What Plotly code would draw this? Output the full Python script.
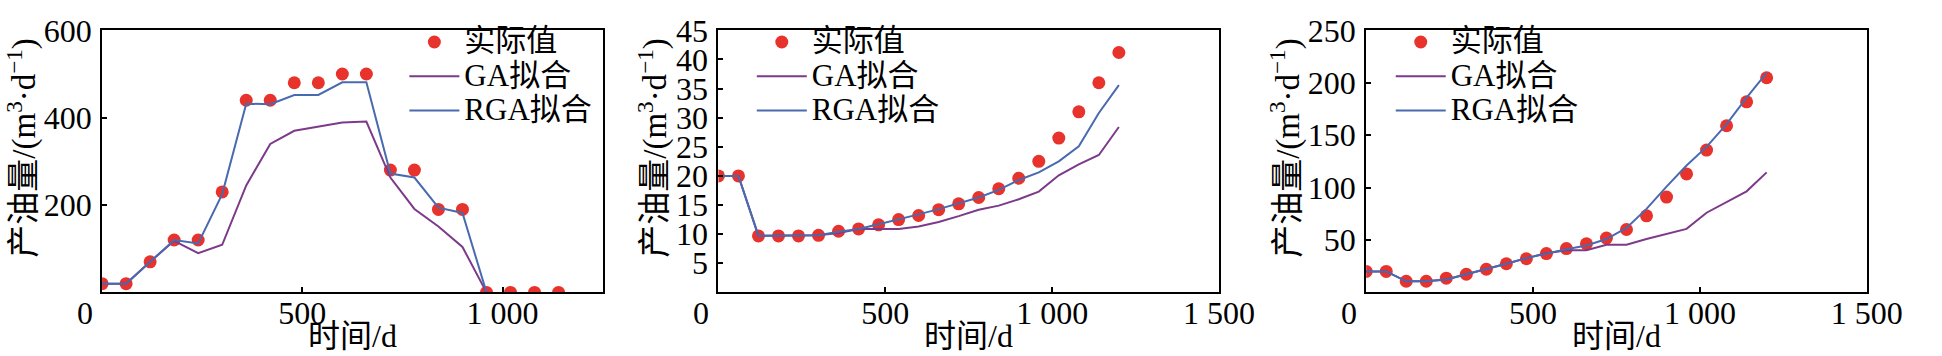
import plotly.graph_objects as go

# ---------------- data ----------------
t_actual = [0, 60, 120, 180, 240, 300, 360, 420, 480, 540, 600, 660, 720, 780, 840, 900, 960, 1020, 1080, 1140, 1200]

# panel 1
p1_t_actual = t_actual[:20]
p1_actual = [20, 20, 70, 120, 120, 230, 440, 440, 480, 480, 500, 500, 280, 280, 190, 190, 0, 0, 0, 0]
p1_t_fit = t_actual[:17]
p1_ga = [20, 20, 70, 118, 90, 109, 245, 340, 370, 380, 389, 391, 263, 191, 151, 104, 0]
p1_rga = [20, 20, 70, 120, 112, 225, 432, 431, 452, 452, 481, 481, 272, 263, 194, 182, 0]

# panel 2
p2_actual = [20, 20, 9.7, 9.7, 9.7, 9.8, 10.5, 10.9, 11.6, 12.5, 13.2, 14.2, 15.2, 16.3, 17.8, 19.6, 22.5, 26.5, 31.0, 36.0, 41.2]
p2_ga = [20, 20, 9.7, 9.7, 9.7, 9.8, 10.2, 10.9, 10.9, 10.9, 11.3, 12.1, 13.1, 14.2, 14.9, 16.0, 17.3, 20.1, 22.0, 23.6, 28.4]
p2_rga = [20, 20, 9.7, 9.7, 9.7, 9.8, 10.4, 10.9, 11.7, 12.5, 13.4, 14.3, 15.3, 16.3, 17.6, 19.3, 20.6, 22.5, 25.1, 30.8, 35.6]

# panel 3
p3_actual = [20, 20, 10.6, 10.6, 13.6, 17.3, 22.1, 27.3, 32.1, 37.0, 41.8, 46.4, 51.8, 60.0, 73.0, 90.9, 113, 135.8, 159, 181.8, 204.8]
p3_ga = [20, 20, 10.6, 10.6, 12.4, 17.3, 22, 27.3, 32.7, 37.3, 40.3, 40.3, 45.5, 45.5, 51, 55.5, 60.6, 76, 85.8, 96.4, 114.5]
p3_rga = [20, 20, 10.6, 10.6, 12.4, 17.3, 22, 27.3, 32.7, 37.3, 41.2, 44.8, 50.9, 61.5, 79.7, 100.9, 121, 138.8, 160.6, 185.8, 209.4]

names = ["实际值", "GA拟合", "RGA拟合"]
x_title = "时间/d"
y_title = "产油量/(m<sup>3</sup>·d<sup>−1</sup>)"

p1_xticks = [500, 1000]
p1_xtext = ["500", "1 000"]
p23_xticks = [500, 1000, 1500]
p23_xtext = ["500", "1 000", "1 500"]
p1_yticks = [200, 400, 600]
p2_yticks = [5, 10, 15, 20, 25, 30, 35, 40, 45]
p3_yticks = [50, 100, 150, 200, 250]

# ---------------- style ----------------
W, H = 1942, 356
FONT = "Liberation Serif, Noto Sans CJK SC, serif"
TICK_SIZE = 32
TITLE_SIZE = 33
XTITLE_SIZE = 32
LEG_TEXT = 31
RED = "#e8322c"
PURPLE = "#7d3a8a"
BLUE = "#4a6ab0"

panels = [
    dict(tx=p1_t_actual, ya=p1_actual, tf=p1_t_fit, ga=p1_ga, rga=p1_rga,
         xr=[0, 1250], yr=[0, 600], xt=p1_xticks, xtt=p1_xtext, yt=p1_yticks,
         px=(104, 614), leg_x=412, ytx=22),
    dict(tx=t_actual, ya=p2_actual, tf=t_actual, ga=p2_ga, rga=p2_rga,
         xr=[0, 1500], yr=[0, 45], xt=p23_xticks, xtt=p23_xtext, yt=p2_yticks,
         px=(732, 1242), leg_x=766, ytx=665),
    dict(tx=t_actual, ya=p3_actual, tf=t_actual, ga=p3_ga, rga=p3_rga,
         xr=[0, 1500], yr=[0, 250], xt=p23_xticks, xtt=p23_xtext, yt=p3_yticks,
         px=(1392, 1902), leg_x=1417, ytx=1309),
]

top_px, bot_px = 13, 289
ydom = [1 - bot_px / H, 1 - top_px / H]


def leg_name(s):
    return "<span style='font-size:%dpx'>%s</span>" % (LEG_TEXT, s)


fig = go.Figure()
layout = dict(
    width=W, height=H,
    margin=dict(l=0, r=0, t=0, b=0),
    paper_bgcolor="white", plot_bgcolor="white",
    font=dict(family=FONT, size=TICK_SIZE, color="black"),
    annotations=[],
)

for i, p in enumerate(panels, start=1):
    sfx = "" if i == 1 else str(i)
    xa, ya = "x" + sfx, "y" + sfx
    leg = "legend" + sfx
    fig.add_trace(go.Scatter(x=p["tx"], y=p["ya"], mode="markers", name=leg_name(names[0]),
                             marker=dict(color=RED, size=13), xaxis=xa, yaxis=ya, legend=leg))
    fig.add_trace(go.Scatter(x=p["tf"], y=p["ga"], mode="lines", name=leg_name(names[1]),
                             line=dict(color=PURPLE, width=2), xaxis=xa, yaxis=ya, legend=leg))
    fig.add_trace(go.Scatter(x=p["tf"], y=p["rga"], mode="lines", name=leg_name(names[2]),
                             line=dict(color=BLUE, width=2), xaxis=xa, yaxis=ya, legend=leg))
    x0, x1 = p["px"]
    axcommon = dict(showline=True, mirror=True, linecolor="black", linewidth=2,
                    ticks="inside", ticklen=5, tickwidth=1.5, tickcolor="black",
                    showgrid=False, zeroline=False, ticklabeloverflow="allow",
                    tickfont=dict(family=FONT, size=TICK_SIZE, color="black"))
    layout["xaxis" + sfx] = dict(domain=[x0 / W, x1 / W], range=p["xr"], anchor=ya,
                                 tickmode="array", tickvals=p["xt"], ticktext=p["xtt"],
                                 ticklabelstandoff=-9, **axcommon)
    layout["yaxis" + sfx] = dict(domain=ydom, range=p["yr"], anchor=xa,
                                 tickmode="array", tickvals=p["yt"],
                                 ticklabelstandoff=2, **axcommon)
    layout[leg] = dict(x=p["leg_x"] / W, y=1 - 2 / H, xanchor="left", yanchor="top",
                       bgcolor="rgba(0,0,0,0)", borderwidth=0,
                       font=dict(family=FONT, size=24, color="black"),
                       itemwidth=50, tracegroupgap=0)
    # origin "0" label
    layout["annotations"].append(dict(text="0", xref=xa, x=0, yref="paper", y=1 - 311 / H,
                                      xshift=-17, showarrow=False, xanchor="center", yanchor="middle",
                                      font=dict(family=FONT, size=TICK_SIZE, color="black")))
    # x title
    layout["annotations"].append(dict(text=x_title, xref="paper", x=(x0 + x1) / 2 / W,
                                      yref="paper", y=0, showarrow=False,
                                      xanchor="center", yanchor="bottom",
                                      font=dict(family=FONT, size=XTITLE_SIZE, color="black")))
    # y title
    layout["annotations"].append(dict(text=y_title, xref="paper", x=p["ytx"] / W,
                                      yref="paper", y=1 - 137 / H, showarrow=False, textangle=-90,
                                      xanchor="center", yanchor="middle",
                                      font=dict(family=FONT, size=TITLE_SIZE, color="black")))

layout["showlegend"] = True
fig.update_layout(**layout)
fig.write_html("out.html", config={"displayModeBar": False},
               post_script="document.body.style.margin='0';document.body.style.overflow='hidden';")
